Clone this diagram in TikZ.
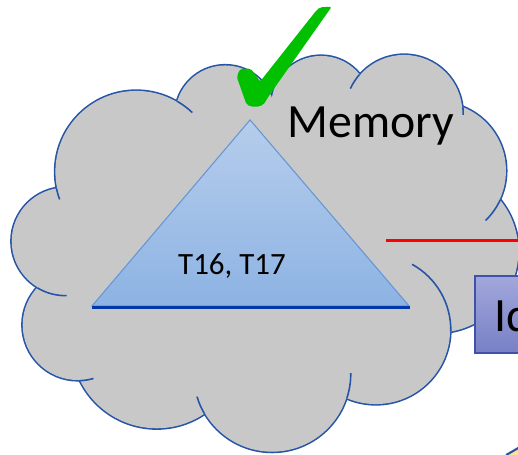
\documentclass[tikz,border=0pt]{standalone}
\usepackage{fontspec}
\setmainfont{Carlito}
\definecolor{cloudfill}{RGB}{200,200,200}
\definecolor{cloudline}{RGB}{38,84,166}
\definecolor{triTop}{RGB}{182,205,236}
\definecolor{triBot}{RGB}{141,179,227}
\definecolor{triEdge}{RGB}{100,150,212}
\definecolor{triBase}{RGB}{0,56,168}
\definecolor{checkgreen}{RGB}{0,192,0}
\definecolor{idTop}{RGB}{162,167,219}
\definecolor{idBot}{RGB}{120,128,198}
\definecolor{idEdge}{RGB}{62,82,170}
\definecolor{fragFill}{RGB}{255,226,150}
\begin{document}
\begin{tikzpicture}[scale=0.02,
  bumpstroke/.style={draw=cloudline, line width=1.8pt},
  innerarc/.style={draw=cloudline, line width=0.9pt},
  bigtext/.style={inner sep=0pt, font=\fontsize{27.2}{31}\selectfont},
  smalltext/.style={inner sep=0pt, font=\fontsize{17.6}{20}\selectfont}]
\useasboundingbox (0,0) rectangle (518,454);
\clip (0,0) rectangle (518,454);

% centres of the cloud's bumps
\coordinate (c1) at (136.18,282.22);
\coordinate (c2) at (225.16,338.45);
\coordinate (c3) at (320.9,348.3);
\coordinate (c4) at (404.0,340.6);
\coordinate (c5) at (437.3,283.2);
\coordinate (c6) at (436.7,202.7);
\coordinate (c7) at (375.8,124.1);
\coordinate (c8) at (272.1,80.2);
\coordinate (c9) at (156.7,111.0);
\coordinate (c10) at (77.76,129.02);
\coordinate (c11) at (65.4,212.7);

% cloud: wide strokes first, the fill then hides their inner halves
\foreach \c/\r in {c1/80.8,c2/50,c3/49.7,c4/58.4,c5/68.55,c6/81.5,c7/74.2,c8/77.9,c9/85.3,c10/55.07,c11/53.7}
  \draw[bumpstroke] (\c) circle[radius=\r];
\foreach \c/\r in {c1/80.8,c2/50,c3/49.7,c4/58.4,c5/68.55,c6/81.5,c7/74.2,c8/77.9,c9/85.3,c10/55.07,c11/53.7}
  \fill[cloudfill] (\c) circle[radius=\r];
\fill[cloudfill] (c1)--(c2)--(c3)--(c4)--(c5)--(c6)--(c7)--(c8)--(c9)--(c10)--(c11)--cycle;

% short inner arcs where the bumps meet
\draw[innerarc] (c1) ++(59.7:81.5) arc[start angle=59.7, end angle=46.5, radius=81.5];
\draw[innerarc] (c1) ++(191.75:81.5) arc[start angle=191.75, end angle=199.9, radius=81.5];
\draw[innerarc] (c4) ++(138.9:59.1) arc[start angle=138.9, end angle=155.3, radius=59.1];
\draw[innerarc] (c4) ++(6.4:59.1) arc[start angle=6.4, end angle=-1.6, radius=59.1];
\draw[innerarc] (c5) ++(-24.7:69.25) arc[start angle=-24.7, end angle=-45.9, radius=69.25];
\draw[innerarc] (c7) ++(-1.4:74.9) arc[start angle=-1.4, end angle=61.05, radius=74.9];
\draw[innerarc] (c8) ++(-18:78.6) arc[start angle=-18, end angle=0.4, radius=78.6];
\draw[innerarc] (c8) ++(-149.5:78.6) arc[start angle=-149.5, end angle=-163.1, radius=78.6];
\draw[innerarc] (c10) ++(-87.8:55.77) arc[start angle=-87.8, end angle=-73.6, radius=55.77];
\draw[innerarc] (c11) ++(-121.1:54.4) arc[start angle=-121.1, end angle=-88.6, radius=54.4];

% red line
\coordinate (r1) at (386,213.3);
\coordinate (r2) at (522,213.3);
\draw[red, line width=1.4pt] (r1) -- (r2);

% triangle
\coordinate (tA) at (250,334);
\coordinate (tL) at (92,148);
\coordinate (tR) at (409,148);
\shade[top color=triTop, bottom color=triBot] (tA)--(tL)--(tR)--cycle;
\draw[triEdge, line width=0.6pt] (tA)--(tL)--(tR)--cycle;
\coordinate (b1) at (92,146.5);
\coordinate (b2) at (410,146.5);
\draw[triBase, line width=1.8pt] (b1) -- (b2);
\node[smalltext, anchor=base] (tlabel) at (232,179) {T16, T17};

% label of the cloud
\node[bigtext, anchor=base west] (memlabel) at (287,316.7) {Memory};

% box at the right
\coordinate (i1) at (475,101);
\coordinate (i2) at (570,178);
\shade[top color=idTop, bottom color=idBot] (i1) rectangle (i2);
\draw[idEdge, line width=0.9pt] (i1) rectangle (i2);
\node[bigtext, anchor=base west] (idlabel) at (494,122) {Id};

% green tick
\fill[checkgreen, rounded corners=1.2pt]
  (236.7,377.3) -- (240,384.7) -- (250,385.7) -- (253.3,382.3) -- (260,372.3)
  -- (316.7,444) -- (320,446.7) -- (331.7,447.3) -- (268.3,357.3)
  -- (263.3,349) -- (255,346.7) -- (246.7,349) -- cycle;

% corner of a shape at the lower right
\coordinate (f1) at (506,-1);
\coordinate (f2) at (522,8.2);
\fill[fragFill] (f1) -- (f2) -- (522,-1) -- cycle;
\draw[cloudline, line width=1.2pt] (f1) -- (f2);
\end{tikzpicture}
\end{document}
